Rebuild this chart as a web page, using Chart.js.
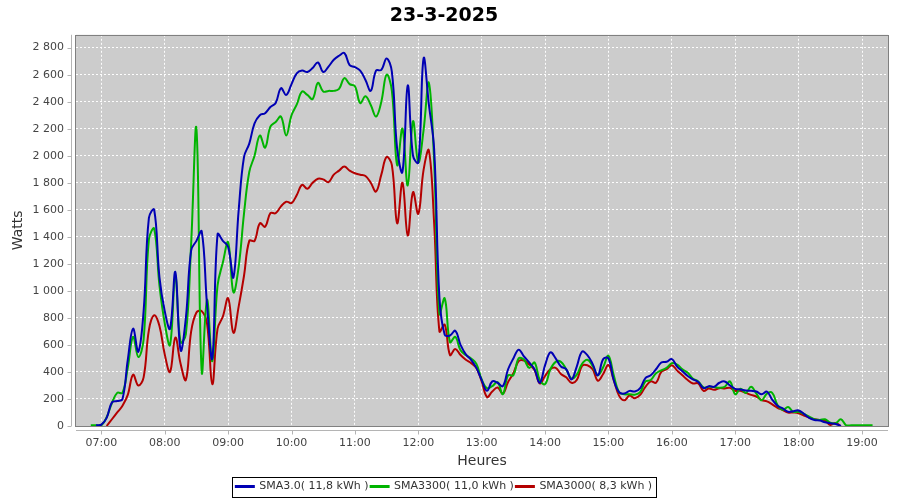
<!DOCTYPE html>
<html>
<head>
<meta charset="utf-8">
<script src="https://cdn.jsdelivr.net/npm/chart.js@4.4.0/dist/chart.umd.min.js"></script>
<style>
  html, body { margin: 0; padding: 0; background: #fff; }
  #wrap { width: 900px; height: 500px; }
</style>
</head>
<body>
<div id="wrap"><canvas id="prodChart" width="900" height="500"></canvas></div>
<script>
// relevés toutes les 5 minutes
const heures = [
  "06:50", "06:55",
  "07:00", "07:05", "07:10", "07:15", "07:20", "07:25", "07:30", "07:35", "07:40", "07:45", "07:50", "07:55",
  "08:00", "08:05", "08:10", "08:15", "08:20", "08:25", "08:30", "08:35", "08:40", "08:45", "08:50", "08:55",
  "09:00", "09:05", "09:10", "09:15", "09:20", "09:25", "09:30", "09:35", "09:40", "09:45", "09:50", "09:55",
  "10:00", "10:05", "10:10", "10:15", "10:20", "10:25", "10:30", "10:35", "10:40", "10:45", "10:50", "10:55",
  "11:00", "11:05", "11:10", "11:15", "11:20", "11:25", "11:30", "11:35", "11:40", "11:45", "11:50", "11:55",
  "12:00", "12:05", "12:10", "12:15", "12:20", "12:25", "12:30", "12:35", "12:40", "12:45", "12:50", "12:55",
  "13:00", "13:05", "13:10", "13:15", "13:20", "13:25", "13:30", "13:35", "13:40", "13:45", "13:50", "13:55",
  "14:00", "14:05", "14:10", "14:15", "14:20", "14:25", "14:30", "14:35", "14:40", "14:45", "14:50", "14:55",
  "15:00", "15:05", "15:10", "15:15", "15:20", "15:25", "15:30", "15:35", "15:40", "15:45", "15:50", "15:55",
  "16:00", "16:05", "16:10", "16:15", "16:20", "16:25", "16:30", "16:35", "16:40", "16:45", "16:50", "16:55",
  "17:00", "17:05", "17:10", "17:15", "17:20", "17:25", "17:30", "17:35", "17:40", "17:45", "17:50", "17:55",
  "18:00", "18:05", "18:10", "18:15", "18:20", "18:25", "18:30", "18:35", "18:40", "18:45", "18:50", "18:55",
  "19:00", "19:05", "19:10"
];

const sma30 = [
  null, 5,
  10, 60, 175, 185, 200, 490, 720, 550, 850, 1540, 1600, 1100,
  850, 720, 1140, 560, 800, 1300, 1370, 1440, 900, 500, 1420, 1370,
  1325, 1100, 1600, 1990, 2090, 2240, 2300, 2315, 2360, 2390, 2500, 2450,
  2530, 2610, 2630, 2620, 2650, 2690, 2620, 2660, 2710, 2740, 2760, 2670,
  2655, 2630, 2560, 2480, 2630, 2635, 2720, 2620, 2050, 1880, 2520, 2000,
  1950, 2720, 2380, 2050, 950, 675, 670, 705, 600, 530, 490, 430,
  340, 260, 330, 320, 295, 420, 500, 565, 515, 470, 420, 320,
  450, 545, 500, 440, 420, 345, 440, 550, 525, 460, 375, 495,
  500, 340, 250, 240, 260, 255, 280, 355, 375, 420, 470, 475,
  495, 440, 405, 370, 345, 325, 280, 295, 290, 320, 330, 300,
  275, 270, 262, 260, 255, 235, 255, 195, 150, 130, 105, 110,
  115, 90, 60, 45, 40, 28, 20, 15, 0, null, null, null,
  null, null, null
];

const sma3300 = [
  5, 5,
  5, 65, 170, 245, 245, 430, 660, 510, 640, 1380, 1460, 1040,
  760, 600, 1105, 620, 680, 1350, 2200, 400, 935, 480, 1040, 1210,
  1360, 990, 1180, 1570, 1880, 2000, 2150, 2060, 2215, 2250, 2290, 2150,
  2300, 2380, 2475, 2450, 2420, 2540, 2475, 2480, 2480, 2495, 2575, 2530,
  2515, 2390, 2440, 2375, 2290, 2400, 2600, 2480, 1930, 2200, 1780, 2255,
  1950, 2190, 2540, 1950, 830, 945, 620, 660, 560, 525, 500, 460,
  345, 280, 295, 325, 235, 375, 375, 500, 490, 430, 470, 340,
  310, 420, 475, 475, 420, 350, 380, 460, 490, 445, 375, 435,
  520, 375, 250, 235, 235, 232, 250, 330, 340, 390, 412, 430,
  465, 455, 420, 395, 350, 330, 285, 290, 288, 283, 290, 330,
  235, 275, 245, 290, 240, 190, 240, 245, 155, 120, 140, 105,
  105, 90, 70, 50, 45, 50, 25, 20, 50, 5, 5, 5,
  5, 5, 5
];

const sma3000 = [
  null, null,
  null, 0, 50, 100, 150, 230, 380, 300, 360, 710, 820, 740,
  530, 400, 655, 460, 340, 700, 840, 850, 760, 310, 720, 810,
  945, 690, 885, 1110, 1370, 1370, 1500, 1475, 1575, 1575, 1625, 1660,
  1650, 1710, 1785, 1755, 1800, 1830, 1825, 1805, 1860, 1890, 1920, 1890,
  1870, 1860, 1850, 1800, 1735, 1860, 1990, 1930, 1500, 1800, 1410, 1730,
  1570, 1895, 2040, 1500, 700, 750, 525, 570, 525, 490, 465, 430,
  330, 215, 255, 285, 240, 325, 390, 480, 485, 455, 415, 315,
  370, 420, 430, 385, 360, 320, 340, 445, 450, 420, 335, 385,
  450, 340, 225, 190, 225, 205, 230, 290, 330, 320, 400, 420,
  450, 410, 375, 340, 315, 315, 260, 278, 268, 280, 278, 282,
  260, 260, 245, 230, 218, 192, 182, 160, 135, 118, 100, 100,
  95, 78, 62, 50, 45, 40, 8, 22, 0, null, null, null,
  null, null, null
];

const noms = ["SMA3.0( 11,8 kWh )", "SMA3300( 11,0 kWh )", "SMA3000( 8,3 kWh )"];
const couleurs = ["#0000b4", "#00b400", "#b40000"];

const POLICE = "'DejaVu Sans', sans-serif";

function enHeures(h) {
  const [hh, mm] = h.split(":").map(Number);
  return hh + mm / 60;
}

function serie(valeurs) {
  return heures
    .map((h, i) => ({ x: enHeures(h), y: valeurs[i] }))
    .filter(p => p.y !== null);
}

function milliers(v) {
  return String(v).replace(/\B(?=(\d{3})+(?!\d))/g, " ");
}

// fond gris, cadre du graphe, axes décalés et cadre de la légende
const cadrePlot = {
  id: "cadrePlot",
  beforeDraw(chart) {
    const { ctx, chartArea: a } = chart;
    ctx.save();
    ctx.fillStyle = "#cccccc";
    ctx.fillRect(a.left, a.top, a.right - a.left, a.bottom - a.top);
    ctx.restore();
  },
  afterDraw(chart) {
    const { ctx, chartArea: a, scales } = chart;
    ctx.save();
    ctx.lineWidth = 1;
    ctx.strokeStyle = "#808080";
    ctx.strokeRect(Math.round(a.left) - 0.5, Math.round(a.top) + 0.5,
      Math.round(a.right - a.left) + 1, Math.round(a.bottom - a.top));

    ctx.strokeStyle = "#b4b4b4";
    ctx.beginPath();
    const xa = Math.round(a.left) - 4.5;
    ctx.moveTo(xa, a.top);
    ctx.lineTo(xa, a.bottom);
    scales.y.ticks.forEach(t => {
      const y = Math.round(scales.y.getPixelForValue(t.value)) + 0.5;
      ctx.moveTo(xa - 4, y);
      ctx.lineTo(xa, y);
    });
    const ya = Math.round(a.bottom) + 4.5;
    ctx.moveTo(a.left, ya);
    ctx.lineTo(a.right, ya);
    scales.x.ticks.forEach(t => {
      const x = Math.round(scales.x.getPixelForValue(t.value)) + 0.5;
      ctx.moveTo(x, ya);
      ctx.lineTo(x, ya + 4);
    });
    ctx.stroke();

    const boites = chart.legend.legendHitBoxes;
    if (boites && boites.length) {
      const g = Math.min(...boites.map(b => b.left)) - 4;
      const d = Math.max(...boites.map(b => b.left + b.width)) + 4;
      const milieu = boites[0].top + boites[0].height / 2;
      ctx.strokeStyle = "#000";
      ctx.strokeRect(Math.round(g) + 0.5, Math.round(milieu - 10) + 0.5, Math.round(d - g), 20);
    }
    ctx.restore();
  }
};

new Chart(document.getElementById("prodChart"), {
  type: "line",
  data: {
    datasets: [sma30, sma3300, sma3000].map((vals, i) => ({
      label: noms[i],
      data: serie(vals),
      borderColor: couleurs[i],
      backgroundColor: couleurs[i],
      borderWidth: 2,
      pointRadius: 0,
      tension: 0.4,
      fill: false
    }))
  },
  options: {
    responsive: false,
    animation: false,
    devicePixelRatio: 1,
    layout: { padding: { left: 0, right: 12, top: 0, bottom: -2 } },
    plugins: {
      title: {
        display: true,
        text: "23-3-2025",
        color: "#000",
        font: { family: POLICE, size: 19, weight: "bold" },
        padding: { top: 5, bottom: 7 }
      },
      legend: {
        position: "bottom",
        labels: {
          color: "#333",
          font: { family: POLICE, size: 11 },
          boxWidth: 18,
          boxHeight: 1,
          padding: 2
        }
      },
      tooltip: { enabled: false }
    },
    scales: {
      x: {
        type: "linear",
        min: 6.6,
        max: 19.41,
        afterFit: s => { s.height = 53; },
        ticks: {
          stepSize: 1,
          includeBounds: false,
          color: "#444",
          padding: 11,
          font: { family: POLICE, size: 11 },
          callback: v => String(v).padStart(2, "0") + ":00"
        },
        grid: { color: "rgba(255,255,255,0.95)", drawTicks: false },
        border: { display: false, dash: [2, 2] },
        title: {
          display: true,
          text: "Heures",
          color: "#333",
          font: { family: POLICE, size: 14 },
          padding: { top: 2, bottom: 9 }
        }
      },
      y: {
        min: 0,
        max: 2895,
        afterFit: s => { s.width = 76; },
        ticks: {
          stepSize: 200,
          includeBounds: false,
          color: "#444",
          padding: 12,
          font: { family: POLICE, size: 11 },
          callback: v => milliers(v)
        },
        grid: { color: "rgba(255,255,255,0.95)", drawTicks: false },
        border: { display: false, dash: [2, 2] },
        title: {
          display: true,
          text: "Watts",
          color: "#333",
          font: { family: POLICE, size: 14 },
          padding: { top: 10, bottom: 0 }
        }
      }
    }
  },
  plugins: [cadrePlot]
});
</script>
</body>
</html>
